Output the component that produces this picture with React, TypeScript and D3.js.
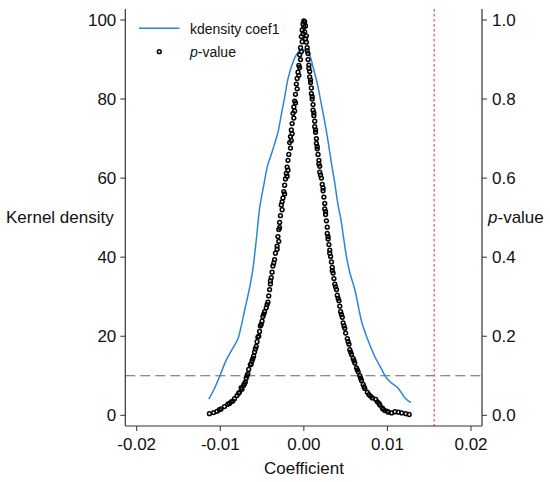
import * as d3 from 'd3';

// kernel density of the coefficient: [coef, density]
const kdensity: [number, number][] = [
  [-0.01138, 4.1], [-0.01078, 6.4], [-0.01006, 9.9], [-0.00934, 13.7], [-0.0085, 17.0],
  [-0.0079, 19.3], [-0.00754, 22.1], [-0.00707, 26.7], [-0.00647, 32.5], [-0.00611, 36.8],
  [-0.00569, 44.4], [-0.00527, 52.7], [-0.00479, 58.3], [-0.00431, 63.4], [-0.00383, 66.4],
  [-0.00347, 68.9], [-0.00311, 71.5], [-0.00263, 76.8], [-0.00228, 80.6], [-0.00192, 84.9],
  [-0.00147, 88.3], [-0.00108, 90.5], [-0.00072, 91.7], [-0.00036, 92.4], [0.0, 92.5],
  [0.00036, 92.2], [0.00072, 91.0], [0.00108, 88.3], [0.00168, 83.2], [0.00204, 79.3],
  [0.00252, 74.0], [0.00287, 69.7], [0.00332, 63.5], [0.00371, 58.6], [0.00407, 53.5],
  [0.00443, 49.6], [0.00471, 45.6], [0.00511, 40.0], [0.00551, 36.0], [0.00611, 31.7],
  [0.00695, 23.4], [0.00766, 19.1], [0.0085, 14.8], [0.00922, 12.0], [0.00978, 9.8],
  [0.0103, 8.5], [0.01126, 6.9], [0.0121, 4.4], [0.01281, 3.2],
];

// p-values, negative side: [coef, p]
const pValueLeft: [number, number][] = [
  [0.0, 0.998], [-0.0001, 0.99], [-0.0002, 0.975], [0.0, 0.982], [-0.0003, 0.958], [-0.0002, 0.945],
  [-0.0004, 0.93], [-0.0005, 0.912], [-0.0004, 0.9], [-0.0006, 0.885], [-0.0007, 0.868], [-0.0008, 0.852],
  [-0.0009, 0.838], [-0.0008, 0.826], [-0.001, 0.812], [-0.0011, 0.795], [-0.0012, 0.78], [-0.0013, 0.764],
  [-0.0012, 0.752], [-0.0014, 0.738], [-0.0015, 0.722], [-0.0016, 0.705], [-0.0017, 0.69], [-0.0016, 0.676],
  [-0.0018, 0.66], [-0.0019, 0.645], [-0.002, 0.628], [-0.0021, 0.612], [-0.0022, 0.598], [-0.0023, 0.582],
  [-0.0024, 0.566], [-0.0025, 0.55], [-0.0027, 0.532], [-0.0026, 0.52], [-0.0028, 0.505], [-0.0029, 0.488],
  [-0.003, 0.47], [-0.0031, 0.452], [-0.003, 0.44], [-0.0032, 0.428], [-0.0034, 0.41], [-0.0035, 0.394],
  [-0.0037, 0.378], [-0.0038, 0.362], [-0.0039, 0.348], [-0.004, 0.332], [-0.0041, 0.318], [-0.0042, 0.302],
  [-0.0043, 0.286], [-0.0045, 0.272], [-0.0047, 0.262], [-0.0049, 0.25], [-0.005, 0.238], [-0.0052, 0.226],
  [-0.0053, 0.212], [-0.0055, 0.198], [-0.0056, 0.186], [-0.0057, 0.174], [-0.0059, 0.16], [-0.006, 0.15],
  [-0.0062, 0.138], [-0.0064, 0.128], [-0.0066, 0.116], [-0.0067, 0.105], [-0.0069, 0.094], [-0.007, 0.084],
  [-0.0072, 0.076], [-0.0074, 0.066], [-0.0077, 0.058], [-0.008, 0.05], [-0.0083, 0.042], [-0.0087, 0.034],
  [-0.0091, 0.028], [-0.0095, 0.022], [-0.0099, 0.016], [-0.0104, 0.01], [-0.0108, 0.007], [-0.0113, 0.004],
  [-0.0001, 0.965], [-0.0003, 0.92], [-0.0005, 0.88], [-0.0006, 0.86], [-0.001, 0.79], [-0.0011, 0.77],
  [-0.0014, 0.712], [-0.0015, 0.695], [-0.0019, 0.62], [-0.002, 0.605], [-0.0023, 0.56], [-0.0026, 0.54],
  [-0.0029, 0.475], [-0.0032, 0.42], [-0.0036, 0.385], [-0.004, 0.34], [-0.0044, 0.28], [-0.0048, 0.256],
  [-0.0051, 0.23], [-0.0054, 0.2], [-0.0058, 0.168], [-0.0061, 0.144], [-0.0063, 0.13], [-0.0068, 0.1],
  [-0.0071, 0.08], [-0.0075, 0.07], [-0.0078, 0.056], [-0.0085, 0.036], [-0.0089, 0.03], [-0.0101, 0.014],
];

// p-values, positive side: [coef, p]
const pValueRight: [number, number][] = [
  [0.0001, 0.995], [0.0002, 0.985], [0.0001, 0.97], [0.0003, 0.96], [0.0003, 0.944], [0.0004, 0.93],
  [0.0005, 0.915], [0.0005, 0.9], [0.0006, 0.886], [0.0007, 0.87], [0.0007, 0.856], [0.0008, 0.842],
  [0.0009, 0.828], [0.0009, 0.814], [0.001, 0.8], [0.0011, 0.786], [0.0011, 0.772], [0.0012, 0.758],
  [0.0013, 0.744], [0.0013, 0.73], [0.0014, 0.716], [0.0015, 0.7], [0.0015, 0.688], [0.0016, 0.674],
  [0.0017, 0.66], [0.0018, 0.645], [0.0019, 0.63], [0.0019, 0.615], [0.0021, 0.6], [0.0022, 0.584],
  [0.0023, 0.568], [0.0024, 0.552], [0.0025, 0.536], [0.0025, 0.522], [0.0026, 0.508], [0.0027, 0.492],
  [0.0028, 0.476], [0.0028, 0.46], [0.0029, 0.446], [0.003, 0.432], [0.0031, 0.418], [0.0032, 0.402],
  [0.0033, 0.388], [0.0034, 0.374], [0.0035, 0.36], [0.0036, 0.346], [0.0037, 0.332], [0.0039, 0.318],
  [0.004, 0.304], [0.0042, 0.29], [0.0043, 0.276], [0.0044, 0.262], [0.0046, 0.248], [0.0047, 0.234],
  [0.0049, 0.22], [0.005, 0.208], [0.0052, 0.194], [0.0054, 0.18], [0.0055, 0.166], [0.0057, 0.154],
  [0.0059, 0.144], [0.0061, 0.132], [0.0063, 0.12], [0.0065, 0.11], [0.0067, 0.1], [0.0069, 0.088],
  [0.0071, 0.078], [0.0073, 0.068], [0.0076, 0.058], [0.008, 0.048], [0.0086, 0.04], [0.0088, 0.034],
  [0.0091, 0.026], [0.0094, 0.018], [0.0097, 0.012], [0.0101, 0.008], [0.0105, 0.006], [0.0109, 0.009],
  [0.0113, 0.008], [0.0117, 0.006], [0.0122, 0.004], [0.0126, 0.002],
  [0.0002, 0.952], [0.0004, 0.922], [0.0006, 0.878], [0.0008, 0.848], [0.001, 0.806], [0.0012, 0.765],
  [0.0014, 0.722], [0.0016, 0.68], [0.0018, 0.636], [0.002, 0.608], [0.0023, 0.575], [0.0026, 0.515],
  [0.0029, 0.452], [0.0031, 0.41], [0.0034, 0.366], [0.0038, 0.325], [0.0041, 0.296], [0.0045, 0.255],
  [0.0048, 0.226], [0.0053, 0.186], [0.0056, 0.16], [0.006, 0.138], [0.0064, 0.115], [0.0068, 0.094],
  [0.0072, 0.072], [0.0078, 0.052], [0.0082, 0.044], [0.009, 0.03], [0.0095, 0.015], [0.01, 0.01],
];

const xTicks = [-0.02, -0.01, 0, 0.01, 0.02];
const xTickLabels = ['-0.02', '-0.01', '0.00', '0.01', '0.02'];
const densityTicks = [0, 20, 40, 60, 80, 100];
const pTicks = [0, 0.2, 0.4, 0.6, 0.8, 1.0];
const pThreshold = 0.1;
const referenceCoef = 0.0156;

const BLUE = '#2a85de';
const AXIS = '#333';
const FONT = '"Liberation Sans", Arial, Helvetica, sans-serif';

export default function App() {
  const width = 550;
  const height = 482;
  const plot = { left: 125.3, right: 482, top: 9, bottom: 426 };

  const x = d3.scaleLinear().domain([-0.02, 0.02]).range([136.7, 471]);
  const yDensity = d3.scaleLinear().domain([0, 100]).range([415.3, 20]);
  const yP = d3.scaleLinear().domain([0, 1]).range([415.3, 20]);

  const densityLine = d3
    .line<[number, number]>()
    .x((d) => x(d[0]))
    .y((d) => yDensity(d[1]))
    .curve(d3.curveCatmullRom);

  const points = [...pValueLeft, ...pValueRight];

  return (
    <svg
      width={width}
      height={height}
      style={{ position: 'absolute', left: 0, top: 0, background: '#fff' }}
      fontFamily={FONT}
    >
      {/* threshold and reference lines */}
      <line
        x1={plot.left}
        x2={plot.right}
        y1={yP(pThreshold)}
        y2={yP(pThreshold)}
        stroke='#666'
        strokeWidth={1.2}
        strokeDasharray='10 5'
      />
      <line
        x1={x(referenceCoef)}
        x2={x(referenceCoef)}
        y1={plot.top}
        y2={plot.bottom}
        stroke='#e07a7a'
        strokeWidth={1.6}
        strokeDasharray='2.5 2.5'
      />

      <path d={densityLine(kdensity) ?? ''} fill='none' stroke={BLUE} strokeWidth={1.5} />

      {points.map((d, i) => (
        <circle
          key={i}
          cx={x(d[0])}
          cy={yP(d[1])}
          r={1.9}
          fill='none'
          stroke='#000'
          strokeWidth={1.5}
        />
      ))}

      {/* axes */}
      <line x1={plot.left} x2={plot.left} y1={plot.top} y2={plot.bottom} stroke={AXIS} strokeWidth={1.2} />
      <line x1={plot.right} x2={plot.right} y1={plot.top} y2={plot.bottom} stroke={AXIS} strokeWidth={1.2} />
      <line x1={plot.left} x2={plot.right} y1={plot.bottom} y2={plot.bottom} stroke={AXIS} strokeWidth={1.2} />

      {densityTicks.map((t) => (
        <g key={`l${t}`}>
          <line x1={plot.left - 5} x2={plot.left} y1={yDensity(t)} y2={yDensity(t)} stroke={AXIS} />
          <text
            x={plot.left - 9}
            y={yDensity(t)}
            textAnchor='end'
            dominantBaseline='central'
            fontSize={17}
            fill='#111'
          >
            {t}
          </text>
        </g>
      ))}

      {pTicks.map((t) => (
        <g key={`r${t}`}>
          <line x1={plot.right} x2={plot.right + 5} y1={yP(t)} y2={yP(t)} stroke={AXIS} />
          <text
            x={plot.right + 10}
            y={yP(t)}
            dominantBaseline='central'
            fontSize={17}
            fill='#111'
          >
            {t.toFixed(1)}
          </text>
        </g>
      ))}

      {xTicks.map((t, i) => (
        <g key={`x${t}`}>
          <line x1={x(t)} x2={x(t)} y1={plot.bottom} y2={plot.bottom + 5} stroke={AXIS} />
          <text x={x(t)} y={450} textAnchor='middle' fontSize={17} fill='#111'>
            {xTickLabels[i]}
          </text>
        </g>
      ))}

      {/* axis titles */}
      <text x={6} y={223} fontSize={17} fill='#111'>
        Kernel density
      </text>
      <text x={488} y={223} fontSize={17} fill='#111'>
        <tspan fontStyle='italic'>p</tspan>-value
      </text>
      <text x={304} y={474} textAnchor='middle' fontSize={17} fill='#111'>
        Coefficient
      </text>

      {/* legend */}
      <line x1={139} x2={179.5} y1={28.3} y2={28.3} stroke={BLUE} strokeWidth={1.5} />
      <text x={190} y={34} fontSize={14} fill='#111'>
        kdensity coef1
      </text>
      <circle cx={159.3} cy={51.7} r={1.9} fill='none' stroke='#000' strokeWidth={1.5} />
      <text x={190} y={57} fontSize={14} fill='#111'>
        <tspan fontStyle='italic'>p</tspan>-value
      </text>
    </svg>
  );
}
